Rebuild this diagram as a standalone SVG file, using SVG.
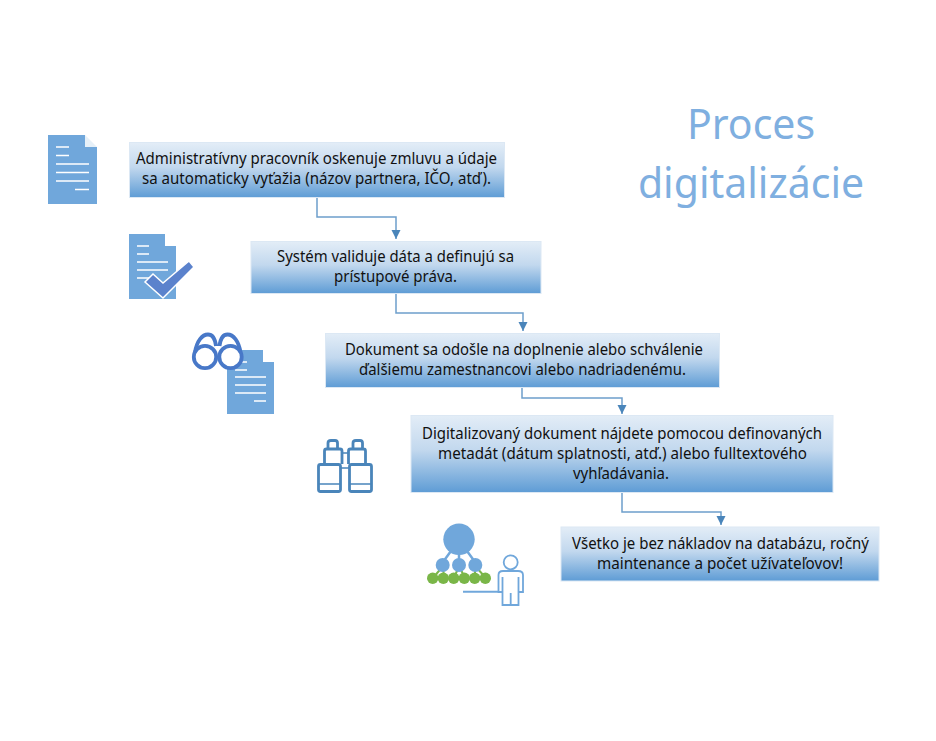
<svg xmlns="http://www.w3.org/2000/svg" width="936" height="741" viewBox="0 0 936 741">
<style>
.box{fill:url(#g);stroke:#dce8f4;stroke-width:1}
.t{font-family:"Noto Sans","Open Sans","Liberation Sans",sans-serif;font-size:15.5px;fill:#111;text-anchor:middle}
.title{font-family:"Noto Sans","Open Sans","Liberation Sans",sans-serif;font-size:41px;fill:#7fafe0;text-anchor:middle}
.c{fill:none;stroke:#6d9fcb;stroke-width:1.5}
.doc{fill:#70a7db}
.wl{stroke:#fff;stroke-width:1.5;fill:none}
.bn{fill:none;stroke:#4a85ba;stroke-width:2.800}
</style>
<defs>
<linearGradient id="g" x1="0" y1="0" x2="0" y2="1"><stop offset="0" stop-color="#e3edf7"/><stop offset="0.45" stop-color="#c2d8ee"/><stop offset="1" stop-color="#5e9cd5"/></linearGradient>
<marker id="a" markerUnits="userSpaceOnUse" markerWidth="10" markerHeight="10" refX="9" refY="5" orient="auto"><path d="M0 .5L9 5L0 9.500z" fill="#4a85ba"/></marker>
</defs>
<g id="title"><text class="title" x="751" y="139">Proces</text><text class="title" x="751" y="198">digitalizácie</text></g>
<g id="connectors">
<path class="c" marker-end="url(#a)" d="M317 197V217H396V239"/>
<path class="c" marker-end="url(#a)" d="M396 293V313H523V331"/>
<path class="c" marker-end="url(#a)" d="M522 388V398H622V414"/>
<path class="c" marker-end="url(#a)" d="M622 492V512H721V525"/>
</g>
<g id="node1"><rect class="box" x="129.500" y="142.500" width="375" height="55"/>
<text class="t" x="316.500" y="164" textLength="361" lengthAdjust="spacingAndGlyphs">Administratívny pracovník oskenuje zmluvu a údaje</text>
<text class="t" x="316.500" y="184" textLength="349" lengthAdjust="spacingAndGlyphs">sa automaticky vyťažia (názov partnera, IČO, atď).</text></g>
<g id="node2"><rect class="box" x="251" y="241.500" width="290" height="52"/>
<text class="t" x="395.500" y="262" textLength="237" lengthAdjust="spacingAndGlyphs">Systém validuje dáta a definujú sa</text>
<text class="t" x="395.500" y="282" textLength="123" lengthAdjust="spacingAndGlyphs">prístupové práva.</text></g>
<g id="node3"><rect class="box" x="325.500" y="333.500" width="394" height="54"/>
<text class="t" x="524" y="355" textLength="358" lengthAdjust="spacingAndGlyphs">Dokument sa odošle na doplnenie alebo schválenie</text>
<text class="t" x="522.500" y="375" textLength="327" lengthAdjust="spacingAndGlyphs">ďalšiemu zamestnancovi alebo nadriadenému.</text></g>
<g id="node4"><rect class="box" x="411" y="415.500" width="422" height="77"/>
<text class="t" x="622" y="439" textLength="400" lengthAdjust="spacingAndGlyphs">Digitalizovaný dokument nájdete pomocou definovaných</text>
<text class="t" x="622.500" y="459" textLength="369" lengthAdjust="spacingAndGlyphs">metadát (dátum splatnosti, atď.) alebo fulltextového</text>
<text class="t" x="621" y="479" textLength="96" lengthAdjust="spacingAndGlyphs">vyhľadávania.</text></g>
<g id="node5"><rect class="box" x="561" y="527" width="318" height="54"/>
<text class="t" x="720.500" y="549" textLength="297" lengthAdjust="spacingAndGlyphs">Všetko je bez nákladov na databázu, ročný</text>
<text class="t" x="720" y="569" textLength="246" lengthAdjust="spacingAndGlyphs">maintenance a počet užívateľovov!</text></g>
<g id="icon1"><path class="doc" d="M48 135H85V147H97V204H48z"/><path d="M85 135L97 147H85z" fill="#e6f0f8"/>
<path class="wl" d="M56 147H69M56 155.500H69M56 164H89M56 172.500H89M56 181H89M75 189.500H89"/></g>
<g id="icon2"><path class="doc" d="M129 234H165V246H176V299H129z"/>
<path class="wl" d="M137 246H149M137 254H149M137 262H168M137 270H168M137 278H150"/>
<path d="M145 282L153 274L163 283L189 261L194 267L163 298z" fill="#5b82cc" stroke="#fff" stroke-width="1.500"/></g>
<g id="icon3"><path class="doc" d="M227 350H263V362H274V414H227z"/>
<path class="wl" d="M235 362H247M235 370H247M235 377H266M235 385H266M235 393H266M254 401H266"/>
<g fill="none" stroke="#4878c8" stroke-width="3.800"><circle cx="205" cy="357" r="11.200" fill="#fff"/><circle cx="230.500" cy="357" r="11.200" fill="#fff"/><path d="M195 352C197 341 202 334.500 208 334.500C212 334.500 215 338 216 346M240.500 352C238.500 341 233.500 334.500 227.500 334.500C223.500 334.500 220.500 338 219.500 346"/></g></g>
<g id="icon4"><rect class="bn" x="318.500" y="464.500" width="22" height="27" rx="2"/><rect class="bn" x="349.500" y="464.500" width="22" height="27" rx="2"/>
<path class="bn" d="M324.500 464V451Q324.500 449 326.500 449H340Q342 449 342 451V464M348.500 464V451Q348.500 449 350.500 449H363.500Q365.500 449 365.500 451V464M328 449V443Q328 440.500 331 440.500H335Q337.500 440.500 337.500 443V449M353 449V443Q353 440.500 356 440.500H360Q362.500 440.500 362.500 443V449"/>
<path d="M342 453H348.500M340 468H349.500M318 484H341M349 484H372" fill="none" stroke="#4a85ba" stroke-width="1.500"/></g>
<g id="icon5"><g fill="none" stroke="#70a7db" stroke-width="2.500"><path d="M459 540V562M459 540L443 562M459 540L475 562"/></g>
<g stroke="#7ab648" stroke-width="2"><path d="M443 566L433 578M443 566L444 578M459 566L454 578M459 566L465 578M475 566L475 578M475 566L486 578"/></g>
<circle cx="459" cy="539.300" r="15.700" fill="#70a7db"/><circle cx="442.700" cy="565" r="7" fill="#70a7db"/><circle cx="459" cy="565" r="7" fill="#70a7db"/><circle cx="475.300" cy="565" r="7" fill="#70a7db"/>
<g fill="#7ab648"><circle cx="432.700" cy="578.300" r="5.700"/><circle cx="443.300" cy="578.300" r="5.700"/><circle cx="453.700" cy="578.300" r="5.700"/><circle cx="464.300" cy="578.300" r="5.700"/><circle cx="474.700" cy="578.300" r="5.700"/><circle cx="485.300" cy="578.300" r="5.700"/></g>
<g fill="none" stroke="#70a7db" stroke-width="1.800"><circle cx="510.700" cy="562.300" r="7"/><path d="M503 571H518Q523 571 523 575V592H518.500V605H502.500V592H498.500V575Q498.500 571 503 571zM510.700 605V593M502.500 577V592M518.500 577V592"/><path d="M463 591.700H498.500" stroke-width="2"/></g></g>
</svg>
